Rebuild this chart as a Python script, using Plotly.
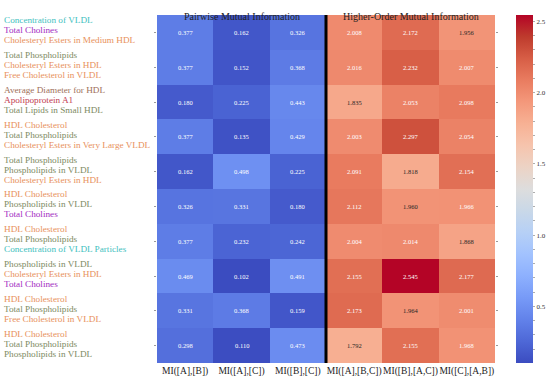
import plotly.graph_objects as go

# ---------------- data ----------------
col_labels = ["MI([A],[B])", "MI([A],[C])", "MI([B],[C])",
              "MI([A],[B,C])", "MI([B],[A,C])", "MI([C],[A,B])"]

row_names = [
    ["Concentration of VLDL", "Total Cholines", "Cholesteryl Esters in Medium HDL"],
    ["Total Phospholipids", "Cholesteryl Esters in HDL", "Free Cholesterol in VLDL"],
    ["Average Diameter for HDL", "Apolipoprotein A1", "Total Lipids in Small HDL"],
    ["HDL Cholesterol", "Total Phospholipids", "Cholesteryl Esters in Very Large VLDL"],
    ["Total Phospholipids", "Phospholipids in VLDL", "Cholesteryl Esters in HDL"],
    ["HDL Cholesterol", "Phospholipids in VLDL", "Total Cholines"],
    ["HDL Cholesterol", "Total Phospholipids", "Concentration of VLDL Particles"],
    ["Phospholipids in VLDL", "Cholesteryl Esters in HDL", "Total Cholines"],
    ["HDL Cholesterol", "Total Phospholipids", "Free Cholesterol in VLDL"],
    ["HDL Cholesterol", "Total Phospholipids", "Phospholipids in VLDL"],
]

pairwise = [
    [0.377, 0.162, 0.326],
    [0.377, 0.152, 0.368],
    [0.180, 0.225, 0.443],
    [0.377, 0.135, 0.429],
    [0.162, 0.498, 0.225],
    [0.326, 0.331, 0.180],
    [0.377, 0.232, 0.242],
    [0.469, 0.102, 0.491],
    [0.331, 0.368, 0.159],
    [0.298, 0.110, 0.473],
]

higher_order = [
    [2.008, 2.172, 1.956],
    [2.016, 2.232, 2.007],
    [1.835, 2.053, 2.098],
    [2.003, 2.297, 2.054],
    [2.091, 1.818, 2.154],
    [2.112, 1.960, 1.966],
    [2.004, 2.014, 1.868],
    [2.155, 2.545, 2.177],
    [2.173, 1.964, 2.001],
    [1.792, 2.155, 1.968],
]

colorbar_ticks = [0.5, 1.0, 1.5, 2.0, 2.5]
colorbar_minor = [0.2, 0.3, 0.4, 0.6, 0.7, 0.8, 0.9, 1.1, 1.2, 1.3, 1.4,
                  1.6, 1.7, 1.8, 1.9, 2.1, 2.2, 2.3, 2.4]

# ---------------- styles ----------------
name_colors = {
    "Concentration of VLDL": "#3fc1c0",
    "Concentration of VLDL Particles": "#3fc1c0",
    "Total Cholines": "#a32bbf",
    "Cholesteryl Esters in Medium HDL": "#e8915c",
    "Cholesteryl Esters in HDL": "#e8915c",
    "Cholesteryl Esters in Very Large VLDL": "#e8915c",
    "Free Cholesterol in VLDL": "#e8915c",
    "HDL Cholesterol": "#e8915c",
    "Total Phospholipids": "#7d8a62",
    "Phospholipids in VLDL": "#7d8a62",
    "Total Lipids in Small HDL": "#7d8a62",
    "Average Diameter for HDL": "#a0705a",
    "Apolipoprotein A1": "#c23b50",
}

cw = [
    (0.0, (0.2298, 0.2987, 0.7537)), (0.0625, (0.3049, 0.4066, 0.8445)),
    (0.125, (0.3843, 0.5098, 0.9176)), (0.1875, (0.4649, 0.6039, 0.9700)),
    (0.25, (0.5529, 0.6902, 0.9961)), (0.3125, (0.6353, 0.7608, 0.9961)),
    (0.375, (0.7137, 0.8157, 0.9647)), (0.4375, (0.7882, 0.8471, 0.9098)),
    (0.5, (0.8650, 0.8650, 0.8650)), (0.5625, (0.9255, 0.8275, 0.7725)),
    (0.625, (0.9647, 0.7686, 0.6784)), (0.6875, (0.9686, 0.6941, 0.5804)),
    (0.75, (0.9569, 0.5961, 0.4824)), (0.8125, (0.9137, 0.4863, 0.3765)),
    (0.875, (0.8431, 0.3686, 0.2745)), (0.9375, (0.7451, 0.2314, 0.1765)),
    (1.0, (0.7059, 0.0157, 0.1490)),
]
colorscale = [[p, "rgb(%d,%d,%d)" % tuple(round(c * 255) for c in rgb)] for p, rgb in cw]


def interp(t):
    for (p0, c0), (p1, c1) in zip(cw[:-1], cw[1:]):
        if p0 <= t <= p1:
            f = (t - p0) / (p1 - p0) if p1 > p0 else 0
            return [a + (b - a) * f for a, b in zip(c0, c1)]
    return list(cw[-1][1])


def lum(rgb):
    lin = [c / 12.92 if c <= 0.03928 else ((c + 0.055) / 1.055) ** 2.4 for c in rgb]
    return 0.2126 * lin[0] + 0.7152 * lin[1] + 0.0722 * lin[2]


z = [p + h for p, h in zip(pairwise, higher_order)]
zmin = min(min(r) for r in z)
zmax = max(max(r) for r in z)

nrows = len(z)
ncols = len(col_labels)

W, H = 550, 381
L, R, T, B = 157, 55, 15, 18
plot_w = W - L - R

cb_vals = sorted(colorbar_ticks + colorbar_minor)
cb_text = ["%.1f" % v if v in colorbar_ticks else "" for v in cb_vals]

fig = go.Figure()
fig.add_trace(go.Heatmap(
    z=z, x=list(range(ncols)), y=list(range(nrows)),
    colorscale=colorscale, zmin=zmin, zmax=zmax,
    showscale=True, hoverinfo="skip",
    colorbar=dict(
        x=1 + 21 / plot_w, xanchor="left", xpad=0, ypad=0,
        y=0.5, yanchor="middle", len=1.0, lenmode="fraction",
        thickness=17, outlinewidth=0,
        tickvals=cb_vals, ticktext=cb_text,
        ticks="outside", ticklen=2.5, tickwidth=0.6,
        tickcolor="#777", tickfont=dict(family="Liberation Serif", size=7, color="#333"),
    ),
))

annotations = []
serif = "Liberation Serif"
for i in range(nrows):
    for j in range(ncols):
        v = z[i][j]
        t = (v - zmin) / (zmax - zmin)
        tc = "#262626" if lum(interp(t)) > 0.408 else "white"
        annotations.append(dict(x=j, y=i, xref="x", yref="y", text="%.3f" % v,
                                showarrow=False, font=dict(family=serif, size=6.5, color=tc)))
    for k, name in enumerate(row_names[i]):
        annotations.append(dict(
            x=-(L - 2) / plot_w, xref="paper", y=i, yref="y", yshift=(1 - k) * 10 + 2,
            text=name, showarrow=False, xanchor="left", align="left",
            font=dict(family=serif, size=9.2, color=name_colors[name])))

annotations.append(dict(x=1, y=1, xref="x", yref="paper", yshift=6, text="Pairwise Mutual Information",
                        showarrow=False, font=dict(family=serif, size=10, color="#222")))
annotations.append(dict(x=4, y=1, xref="x", yref="paper", yshift=6, text="Higher-Order Mutual Information",
                        showarrow=False, font=dict(family=serif, size=10, color="#222")))

fig.update_layout(
    width=W, height=H,
    margin=dict(l=L, r=R, t=T, b=B, autoexpand=False),
    paper_bgcolor="white", plot_bgcolor="white",
    annotations=annotations,
    shapes=[dict(type="line", x0=2.5, x1=2.5, y0=0, y1=1, xref="x", yref="paper",
                 line=dict(color="black", width=3))],
    xaxis=dict(tickvals=list(range(ncols)), ticktext=col_labels, showgrid=False, zeroline=False,
               ticks="", range=[-0.5, ncols - 0.5], tickangle=0, automargin=False,
               tickfont=dict(family=serif, size=9.5, color="#222")),
    yaxis=dict(tickvals=list(range(nrows)), ticktext=[""] * nrows, showgrid=False, zeroline=False,
               automargin=False,
               range=[nrows - 0.5, -0.5], ticks="outside", ticklen=2, tickcolor="#999", mirror="ticks"),
)

fig.write_html("out.html", config={"displayModeBar": False, "staticPlot": True},
               post_script="document.body.style.margin='0';document.body.style.overflow='hidden';")
